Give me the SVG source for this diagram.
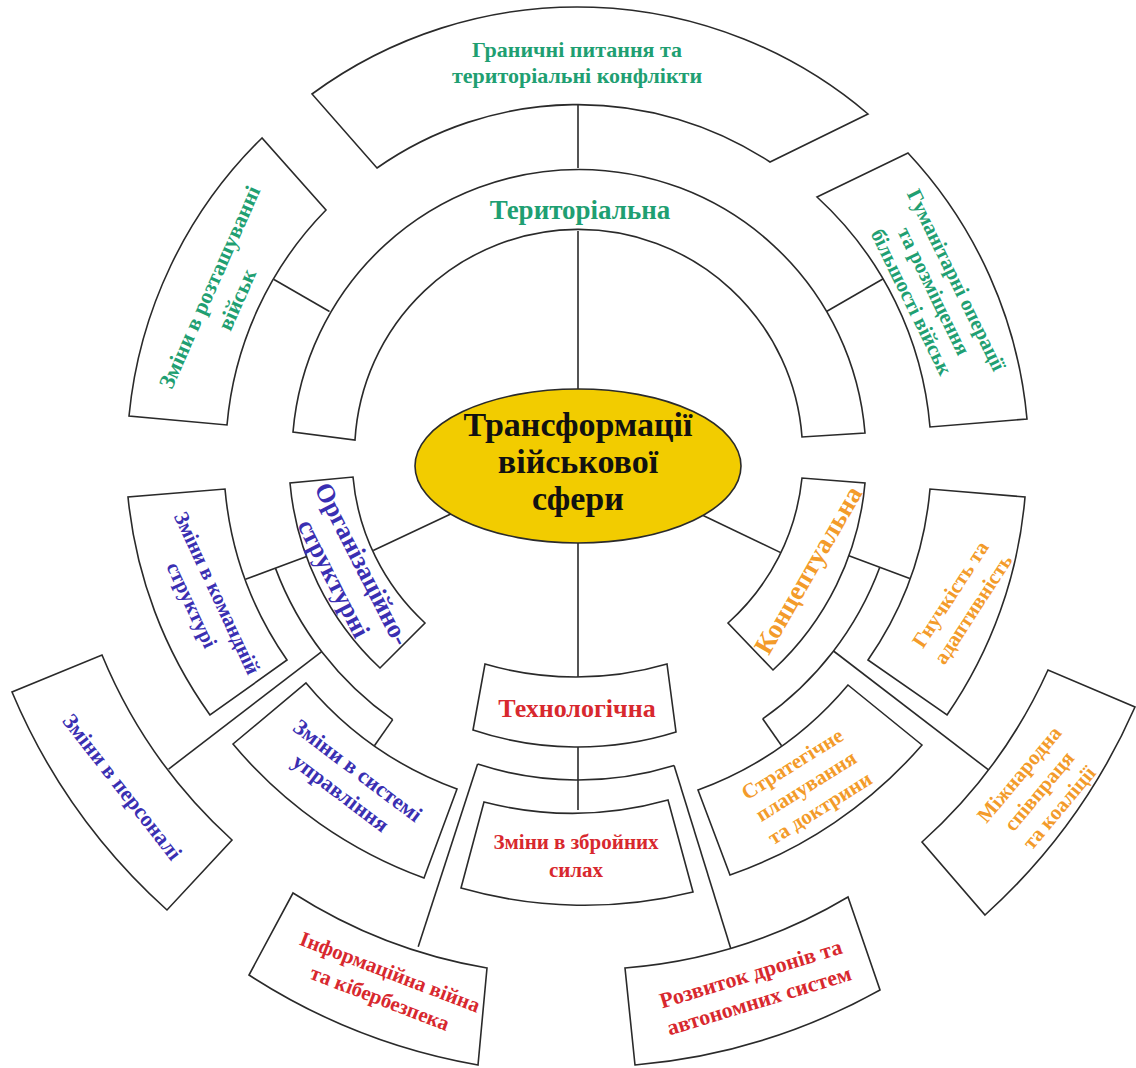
<svg xmlns="http://www.w3.org/2000/svg" width="1136" height="1068" viewBox="0 0 1136 1068">
<style>
.box{fill:#fff;stroke:#2a2a2a;stroke-width:1.6;stroke-linejoin:miter}
.ln{fill:none;stroke:#2a2a2a;stroke-width:1.6}
text{font-family:"Liberation Serif","Times New Roman",serif;font-weight:bold;text-anchor:middle}
.g{fill:#1f9f72}.b{fill:#3a2fb2}.r{fill:#d8282e}.o{fill:#f39b2a}
.s21{font-size:21px}.s22{font-size:22px}.s26{font-size:26px}.s27{font-size:27px}
.ct{font-size:34px;fill:#111}
</style>
<rect width="1136" height="1068" fill="#fff"/>
<g id="connectors">
<line class="ln" x1="578" y1="392" x2="578" y2="231"/>
<line class="ln" x1="578" y1="168" x2="578" y2="104"/>
<line class="ln" x1="329.5" y1="311.5" x2="274" y2="279.5"/>
<line class="ln" x1="826.5" y1="311.5" x2="882.8" y2="279"/>
<line class="ln" x1="455" y1="512" x2="373.2" y2="550.5"/>
<line class="ln" x1="307.3" y1="556.2" x2="245.5" y2="579.3"/>
<path class="ln" d="M275.4 568.1 A323 323 0 0 0 392.7 719.6"/>
<line class="ln" x1="321.7" y1="651.6" x2="168.6" y2="769.1"/>
<line class="ln" x1="392.7" y1="719.6" x2="374.4" y2="745.8"/>
<line class="ln" x1="700" y1="514" x2="780.7" y2="552.6"/>
<line class="ln" x1="848.9" y1="555.7" x2="909.8" y2="578.4"/>
<path class="ln" d="M879.8 567.2 A322 322 0 0 1 762.7 718.8"/>
<line class="ln" x1="762.7" y1="718.8" x2="781.6" y2="745.8"/>
<line class="ln" x1="833.5" y1="651" x2="988.2" y2="769.7"/>
<line class="ln" x1="578" y1="540" x2="578" y2="677"/>
<line class="ln" x1="578" y1="747" x2="578" y2="810"/>
<path class="ln" d="M477.6 764.1 A325 325 0 0 0 674.1 765.5"/>
<line class="ln" x1="477.6" y1="764.1" x2="418.2" y2="946.7"/>
<line class="ln" x1="674.1" y1="765.5" x2="730.6" y2="947.9"/>
</g>
<g id="n-border">
<path class="box" d="M312 94 A448 448 0 0 1 868 114 L770 162 A350 350 0 0 0 377 168 Z"/>
<text class="g s22" x="577" y="57">Граничні питання та</text>
<text class="g s22" x="577" y="83">територіальні конфлікти</text>
</g>
<g id="n-territorial">
<path class="box" d="M293 432 A287 287 0 0 1 865 433 L802 437 A224 224 0 0 0 355 440 Z"/>
<text class="g s27" x="580" y="219">Територіальна</text>
</g>
<g id="n-deploy">
<path class="box" d="M129 416 A449 449 0 0 1 262 138 L326 210 A351 351 0 0 0 227 425 Z"/>
<g transform="translate(223.5,293.5) rotate(-66)"><text class="g s22" y="-8">Зміни в розташуванні</text><text class="g s22" y="22">військ</text></g>
</g>
<g id="n-humanitarian">
<path class="box" d="M908 153 A449 449 0 0 1 1027 419 L930 427 A352 352 0 0 0 817 197 Z"/>
<g transform="translate(934,291) rotate(64)"><text class="g s21" y="-18">Гуманітарні операції</text><text class="g s21" y="7">та розміщення</text><text class="g s21" y="32">більшості військ</text></g>
</g>
<g id="n-org">
<path class="box" d="M380 668 A289 289 0 0 1 290 483 L353 477 A226 226 0 0 0 425 623 Z"/>
<g transform="translate(347.5,571.5) rotate(63)"><text class="b s26" y="-8">Організаційно-</text><text class="b s26" y="24">структурні</text></g>
</g>
<g id="n-command">
<path class="box" d="M210 715 A451 451 0 0 1 128 497 L225 489 A355 355 0 0 0 287 660 Z"/>
<g transform="translate(204.5,599) rotate(65)"><text class="b s21" y="-7">Зміни в командній</text><text class="b s21" y="21">структурі</text></g>
</g>
<g id="n-personnel">
<path class="box" d="M167 910 A613 613 0 0 1 12 692 L102 655 A516 516 0 0 0 232 840 Z"/>
<g transform="translate(122,787) rotate(52)"><text class="b s22" y="7">Зміни в персоналі</text></g>
</g>
<g id="n-control">
<path class="box" d="M424 878 A450 450 0 0 1 233 744 L306 683 A355 355 0 0 0 457 789 Z"/>
<g transform="translate(349,782) rotate(37)"><text class="b s22" y="-7">Зміни в системі</text><text class="b s22" y="21">управління</text></g>
</g>
<g id="n-conceptual">
<path class="box" d="M865 483 A289 289 0 0 1 773 670 L728 623 A225 225 0 0 0 802 478 Z"/>
<g transform="translate(808,570) rotate(-60)"><text class="o s27" y="9">Концептуальна</text></g>
</g>
<g id="n-flex">
<path class="box" d="M1025 497 A450 450 0 0 1 947 715 L868 660 A354 354 0 0 0 930 489 Z"/>
<g transform="translate(962,602) rotate(-57)"><text class="o s21" y="-7">Гнучкість та</text><text class="o s21" y="20">адаптивність</text></g>
</g>
<g id="n-strategy">
<path class="box" d="M922 745 A450 450 0 0 1 730 875 L698 790 A355 355 0 0 0 848 685 Z"/>
<g transform="translate(806,786) rotate(-32)"><text class="o s21" y="-19">Стратегічне</text><text class="o s21" y="7">планування</text><text class="o s21" y="33">та доктрини</text></g>
</g>
<g id="n-intl">
<path class="box" d="M1135 707 A612 612 0 0 1 985 915 L922 842 A517 517 0 0 0 1048 670 Z"/>
<g transform="translate(1039,791) rotate(-50)"><text class="o s21" y="-19">Міжнародна</text><text class="o s21" y="7">співпраця</text><text class="o s21" y="33">та коаліції</text></g>
</g>
<g id="n-tech">
<path class="box" d="M676 732 A330 330 0 0 1 473 730 L485 664 A325 325 0 0 0 667 664 Z"/>
<text class="r s26" x="577" y="717">Технологічна</text>
</g>
<g id="n-armed">
<path class="box" d="M693 892 A450 450 0 0 1 461 888 L484 802 A355 355 0 0 0 668 800 Z"/>
<text class="r s21" x="576" y="849">Зміни в збройних</text>
<text class="r s21" x="576" y="877">силах</text>
</g>
<g id="n-info">
<path class="box" d="M478 1065 A616 616 0 0 1 249 975 L293 893 A521 521 0 0 0 487 968 Z"/>
<g transform="translate(385,985) rotate(21)"><text class="r s21" y="-7">Інформаційна війна</text><text class="r s21" y="21">та кібербезпека</text></g>
</g>
<g id="n-drones">
<path class="box" d="M880 990 A613 613 0 0 1 635 1065 L625 968 A516 516 0 0 0 848 897 Z"/>
<g transform="translate(755,987.5) rotate(-17)"><text class="r s22" y="-7">Розвиток дронів та</text><text class="r s22" y="21">автономних систем</text></g>
</g>
<g id="n-center">
<ellipse cx="578" cy="466" rx="163" ry="77" fill="#f2cc00" stroke="#2a2a2a" stroke-width="1.6"/>
<text class="ct" x="578" y="436">Трансформації</text>
<text class="ct" x="578" y="473">військової</text>
<text class="ct" x="578" y="510">сфери</text>
</g>
</svg>
